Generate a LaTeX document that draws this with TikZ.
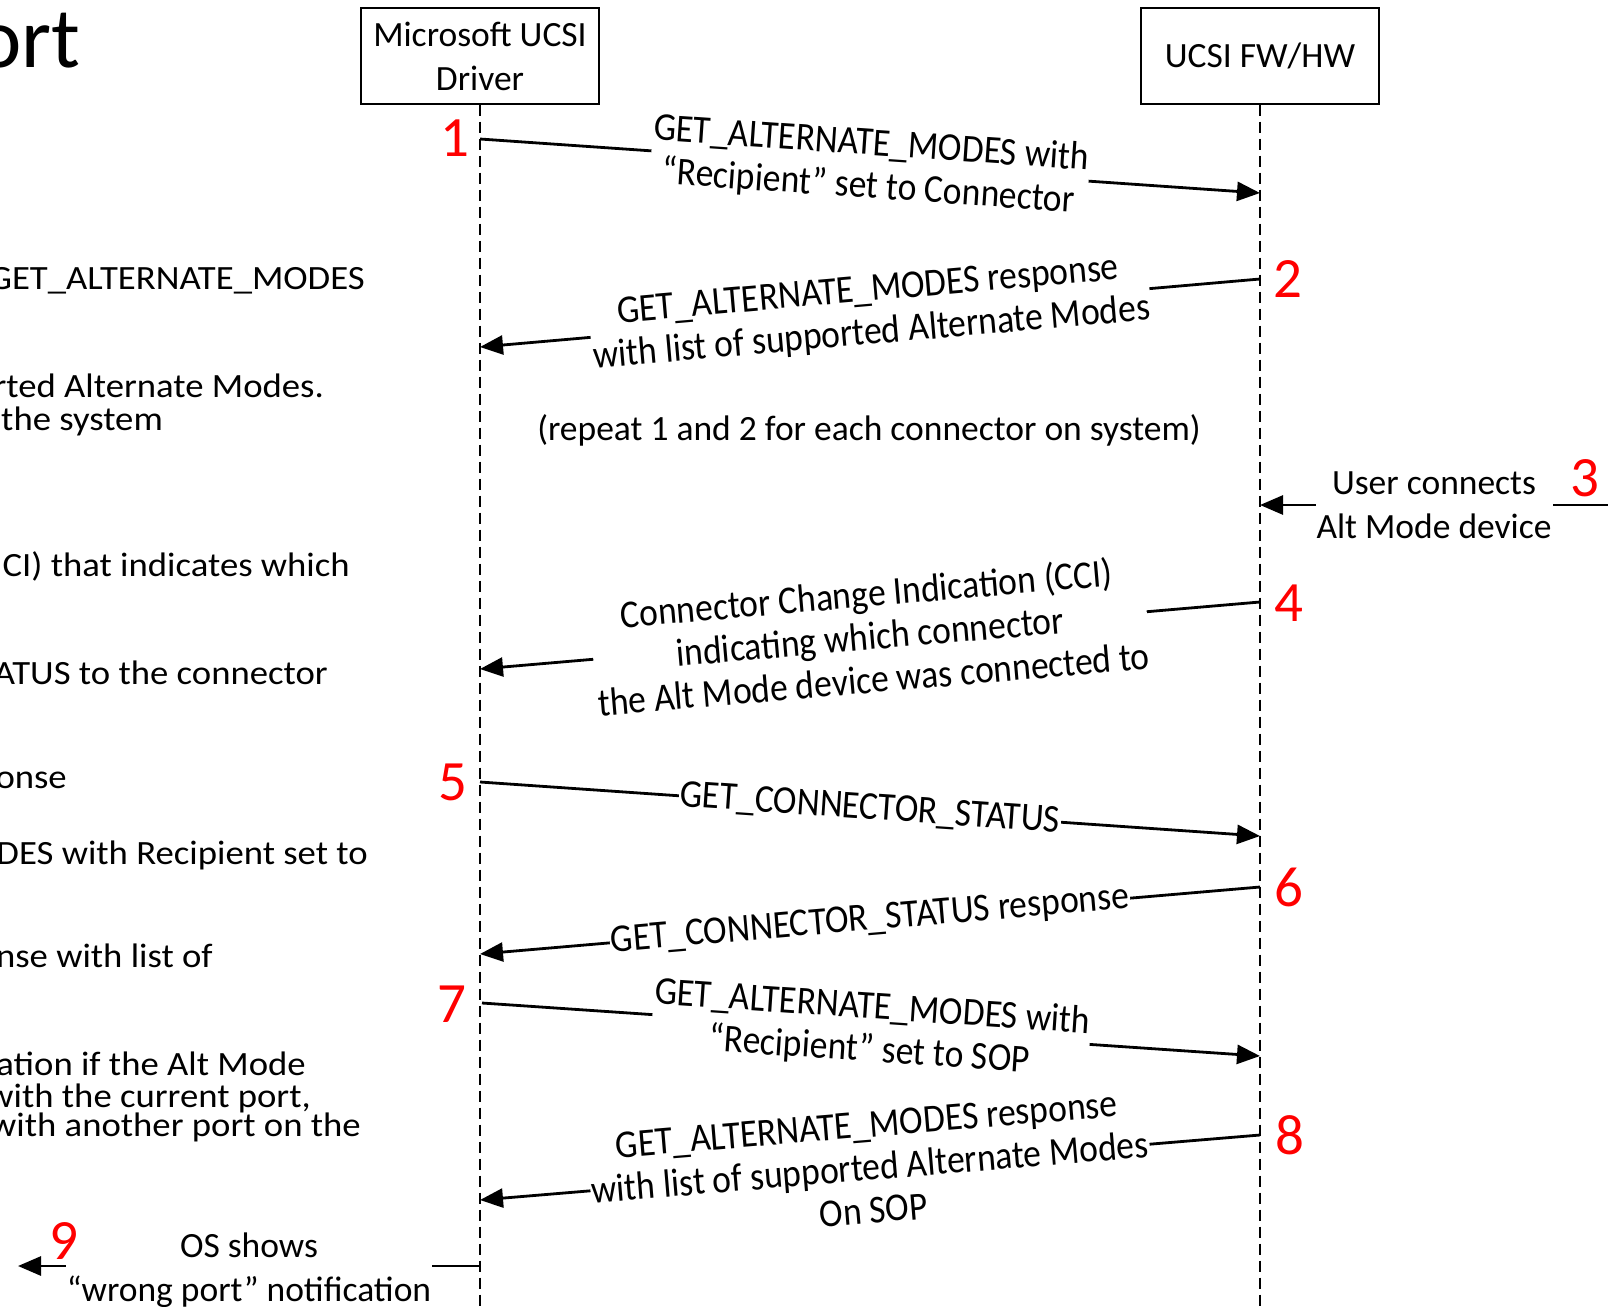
\documentclass[tikz,border=0pt]{standalone}
\usepackage{fontspec}
\setmainfont{Carlito}
\newfontfamily\lblfont[FakeStretch=0.9]{Carlito}
\newfontfamily\sidefont[FakeStretch=1.08]{Carlito}
\usetikzlibrary{arrows.meta}
\begin{document}
\begin{tikzpicture}[x=1pt,y=-1pt,
  actor/.style={draw, line width=1.2pt, minimum width=238pt, minimum height=96pt, inner sep=0pt, align=center, font=\fontsize{35.5}{44}\selectfont},
  life/.style={line width=2.8pt, dash pattern=on 11pt off 6pt},
  msg/.style={line width=2.8pt, -{Triangle[length=23pt,width=19pt]}},
  lbl/.style={fill=white, inner sep=1pt, align=center, font=\lblfont\fontsize{39.5}{43}\selectfont},
  plain/.style={align=center, inner sep=1pt, font=\fontsize{35.5}{44}\selectfont},
  num/.style={text=red, inner sep=0pt, font=\fontsize{57}{57}\selectfont},
  side/.style={anchor=base east, inner sep=0pt, font=\sidefont\fontsize{34}{34}\selectfont}]
\clip (0,0) rectangle (1608,1306);
\fill[white] (0,0) rectangle (1608,1306);

% title fragment
\node[anchor=base east, inner sep=0pt, font=\fontsize{86}{86}\selectfont] (title) at (81,67) {ort};

% left-side text fragments
\node[side] (s1) at (365,289) {GET\_ALTERNATE\_MODES};
\node[side] (s2) at (324,397) {rted Alternate Modes.};
\node[side] (s3) at (163,430) {the system};
\node[side] (s4) at (350,576) {CI) that indicates which};
\node[side] (s5) at (328,684) {ATUS to the connector};
\node[side] (s6) at (67,788) {onse};
\node[side] (s7) at (368,864) {DES with Recipient set to};
\node[side] (s8) at (213,967) {nse with list of};
\node[side] (s9) at (306,1075) {ation if the Alt Mode};
\node[side] (s10) at (311,1107) {with the current port,};
\node[side] (s11) at (361,1136) {with another port on the};

% actors
\node[actor] (drv) at (480,56) {Microsoft UCSI\\Driver};
\node[actor] (fw) at (1260,56) {UCSI FW/HW};
\coordinate (drvEnd) at (480,1306);
\coordinate (fwEnd) at (1260,1306);
\draw[life] (drv.south) -- (drvEnd);
\draw[life] (fw.south) -- (fwEnd);

% message anchor points
\coordinate (m1a) at (480,139);  \coordinate (m1b) at (1260,193);
\coordinate (m2a) at (1260,279); \coordinate (m2b) at (480,347);
\coordinate (m3a) at (1608,505); \coordinate (m3b) at (1260,505);
\coordinate (m4a) at (1260,602); \coordinate (m4b) at (480,669);
\coordinate (m5a) at (480,782);  \coordinate (m5b) at (1260,836);
\coordinate (m6a) at (1260,887); \coordinate (m6b) at (480,954);
\coordinate (m7a) at (482,1003); \coordinate (m7b) at (1260,1056);
\coordinate (m8a) at (1260,1135); \coordinate (m8b) at (480,1200);
\coordinate (m9a) at (480,1266); \coordinate (m9b) at (18,1266);

\draw[msg] (m1a) -- node[lbl, sloped] (l1) {GET\_ALTERNATE\_MODES with\\“Recipient” set to Connector} (m1b);
\draw[msg] (m2a) -- node[lbl, sloped] (l2) {GET\_ALTERNATE\_MODES response\\with list of supported Alternate Modes} (m2b);
\node[plain] (rep) at (869,430) {(repeat 1 and 2 for each connector on system)};
\draw[msg] (m3a) -- node[plain, fill=white] (l3) {User connects\\Alt Mode device} (m3b);
\draw[msg] (m4a) -- node[lbl, sloped] (l4) {Connector Change Indication (CCI)\\indicating which connector\\the Alt Mode device was connected to} (m4b);
\draw[msg] (m5a) -- node[lbl, sloped] (l5) {GET\_CONNECTOR\_STATUS} (m5b);
\draw[msg] (m6a) -- node[lbl, sloped] (l6) {GET\_CONNECTOR\_STATUS response} (m6b);
\draw[msg] (m7a) -- node[lbl, sloped] (l7) {GET\_ALTERNATE\_MODES with\\“Recipient” set to SOP} (m7b);
\draw[msg] (m8a) -- node[lbl, sloped] (l8) {GET\_ALTERNATE\_MODES response\\with list of supported Alternate Modes\\On SOP} (m8b);
\draw[msg] (m9a) -- node[plain, fill=white, yshift=-4pt] (l9) {OS shows\\“wrong port” notification} (m9b);

% step numbers
\node[num] (n1) at (455,138) {1};
\node[num] (n2) at (1288,279) {2};
\node[num] (n3) at (1585,478) {3};
\node[num] (n4) at (1289,603) {4};
\node[num] (n5) at (453,782) {5};
\node[num] (n6) at (1289,887) {6};
\node[num] (n7) at (452,1004) {7};
\node[num] (n8) at (1290,1135) {8};
\node[num] (n9) at (64,1241) {9};
\end{tikzpicture}
\end{document}
